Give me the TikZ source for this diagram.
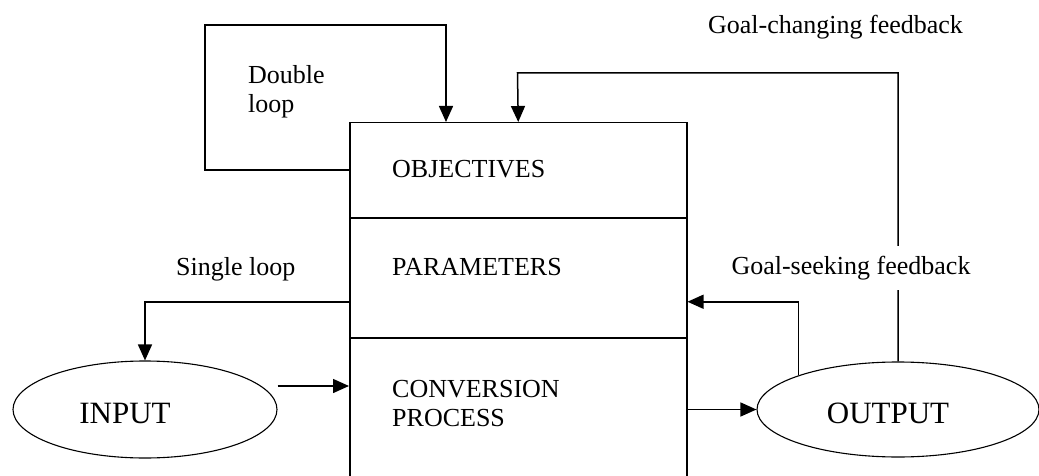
\documentclass[tikz,border=0pt]{standalone}
\usepackage{fontspec}
\setmainfont{Liberation Serif}
\usetikzlibrary{arrows.meta,shapes.geometric,calc}
\begin{document}
\begin{tikzpicture}[x=1pt,y=-1pt,
  wire/.style={line width=1.5pt},
  arr/.style={wire,-{Triangle[length=16pt,width=14pt]}},
  section/.style={draw,line width=1.5pt,rectangle,minimum width=337pt,inner sep=0pt,anchor=north west},
  lbl/.style={font=\fontsize{26}{29.5}\selectfont,inner sep=0pt},
  oval/.style={draw,ellipse,line width=1.1pt,inner sep=0pt,font=\fontsize{31}{36}\selectfont,text height=27pt,text depth=0pt}]

\useasboundingbox (0,0) rectangle (1039,476);
\clip (0,0) rectangle (1039,476);

% the system box, split into its three layers
\node[section,minimum height=95pt]  (obj)  at (349,122) {};
\node[section,minimum height=120pt] (par)  at (349,217) {};
\node[section,minimum height=163pt] (conv) at (349,337) {};

\node[lbl,anchor=base west] (tObj) at (392,178) {OBJECTIVES};
\node[lbl,anchor=base west] (tPar) at (392,275) {PARAMETERS};
\node[lbl,anchor=base west,align=left] (tConv) at (392,426.5) {CONVERSION\\PROCESS};

% input and output
\node[oval,minimum width=264pt,minimum height=97pt] (in)  at (145,409.5) {INPUT\hspace*{40pt}};
\node[oval,minimum width=282pt,minimum height=95pt] (out) at (898,409.5) {OUTPUT\hspace*{20pt}};

% main flow
\draw[arr] ([yshift=23.5pt]in.east) -- ([yshift=23.5pt]in.east -| conv.west);
\draw[arr] (out.west -| conv.east) -- (out.west);

% double loop
\coordinate (dlA) at (205,25);
\coordinate (dlB) at (446,25);
\draw[arr] (obj.west) -| (dlA) -- (dlB) -- (dlB |- obj.north);

% goal-changing feedback
\coordinate (gcA) at (517.5,73);
\draw[arr] (out.north) |- (gcA) -- (obj.north);

% single loop and goal-seeking feedback
\draw[arr] ([yshift=-24pt]par.west) -| (in.north);
\draw[arr] (out.161) |- ([yshift=-24pt]par.east);

% labels
\node[lbl,anchor=base west,align=left] (tDouble) at (248,113) {Double\\loop};
\node[lbl,anchor=base] (tGC) at (835.5,34) {Goal-changing feedback};
\node[lbl,anchor=base west] (tSL) at (176,275) {Single loop};
\node[lbl,anchor=base,fill=white,inner ysep=10pt] (tGS) at (851,274) {Goal-seeking feedback};
\end{tikzpicture}
\end{document}
